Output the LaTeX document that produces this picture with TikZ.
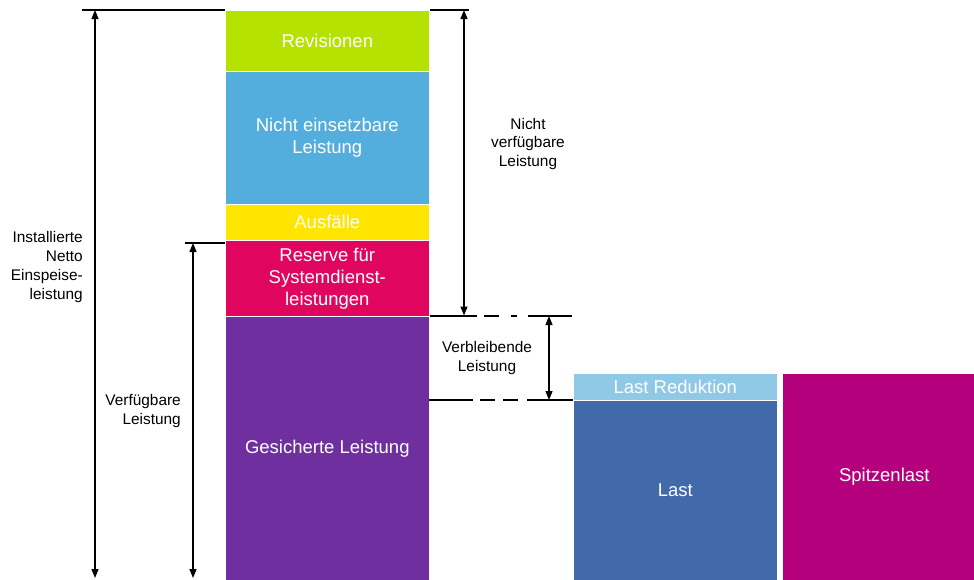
\documentclass[tikz,border=0pt]{standalone}
\usepackage{fontspec}
\setmainfont{Liberation Sans}
\usetikzlibrary{arrows.meta}

\definecolor{revgreen}{RGB}{181,226,0}
\definecolor{neblue}{RGB}{84,174,221}
\definecolor{ausyellow}{RGB}{255,229,0}
\definecolor{reservered}{RGB}{224,6,95}
\definecolor{gespurple}{RGB}{111,47,159}
\definecolor{redblue}{RGB}{143,201,230}
\definecolor{lastblue}{RGB}{66,106,170}
\definecolor{spitzmag}{RGB}{180,0,124}

\begin{document}
\begin{tikzpicture}[x=1pt,y=-1pt]
\useasboundingbox (0,0) rectangle (974,579);

\tikzstyle block=[anchor=north west, minimum width=204pt, inner sep=0pt, text=white, align=center, font=\fontsize{18.5}{22}\selectfont, draw=white, line width=0.6pt]
\tikzstyle lbl=[inner sep=0pt, font=\fontsize{15.4}{18.7}\selectfont]
\tikzstyle hline=[line width=2pt, black]
\tikzstyle dimarrow=[line width=1.2pt, >={Triangle[length=9pt,width=7pt]}, <->]

% Leistungssaeule
\node[block, fill=revgreen, minimum height=61pt] (rev) at (225,10) {Revisionen};
\node[block, fill=neblue, minimum height=133pt] (nicht) at (225,71) {Nicht einsetzbare\\Leistung};
\node[block, fill=ausyellow, minimum height=36pt] (aus) at (225,204) {Ausfälle};
\node[block, fill=reservered, minimum height=76pt] (res) at (225,240) {Reserve für\\Systemdienst-\\leistungen};
\node[block, fill=gespurple, minimum height=264pt] (ges) at (225,316) {Gesicherte Leistung};

% Last
\node[block, fill=redblue, minimum height=27pt] (lastred) at (573,373) {Last Reduktion};
\node[block, fill=lastblue, minimum height=180pt] (last) at (573,400) {Last};
\node[block, fill=spitzmag, minimum height=207pt] (spitz) at (782,373) {Spitzenlast};

% links
\coordinate (instTop) at (82,10);
\coordinate (instA) at (95,10);
\coordinate (instB) at (95,578);
\draw[hline] (instTop) -- (rev.north west);
\draw[dimarrow] (instA) -- (instB);
\node[lbl, align=right, anchor=east] (inst) at (83,267) {Installierte\\Netto\\Einspeise-\\leistung};

\coordinate (verfTop) at (185,243);
\coordinate (verfA) at (193,243);
\coordinate (verfB) at (193,578);
\draw[hline] (verfTop) -- (verfTop -| res.west);
\draw[dimarrow] (verfA) -- (verfB);
\node[lbl, align=right, anchor=east] (verf) at (181,411) {Verfügbare\\Leistung};

% rechts
\coordinate (nvEnd) at (469,10);
\coordinate (nvA) at (464,10);
\coordinate (nvB) at (464,315.5);
\draw[hline] (rev.north east) -- (nvEnd);
\draw[dimarrow] (nvA) -- (nvB);
\node[lbl, align=center] (nv) at (528,144) {Nicht\\verfügbare\\Leistung};

\coordinate (gapA1) at (477,316);
\coordinate (gapA2) at (528,316);
\coordinate (vbTop) at (572,316);
\draw[hline] (ges.north east) -- (gapA1);
\draw[hline, dash pattern=on 0pt off 7pt on 15pt off 12pt on 6pt off 20pt] (gapA1) -- (gapA2);
\draw[hline] (gapA2) -- (vbTop);

\coordinate (lowL) at (429,400);
\coordinate (gapB1) at (473,400);
\coordinate (gapB2) at (527,400);
\draw[hline] (lowL) -- (gapB1);
\draw[hline, dash pattern=on 0pt off 7pt on 15pt off 8pt on 15pt off 20pt] (gapB1) -- (gapB2);
\draw[hline] (gapB2) -- (last.north west);

\coordinate (vbA) at (549,316);
\coordinate (vbB) at (549,400);
\draw[dimarrow] (vbA) -- (vbB);
\node[lbl, align=center] (vb) at (487,358) {Verbleibende\\Leistung};
\end{tikzpicture}
\end{document}
